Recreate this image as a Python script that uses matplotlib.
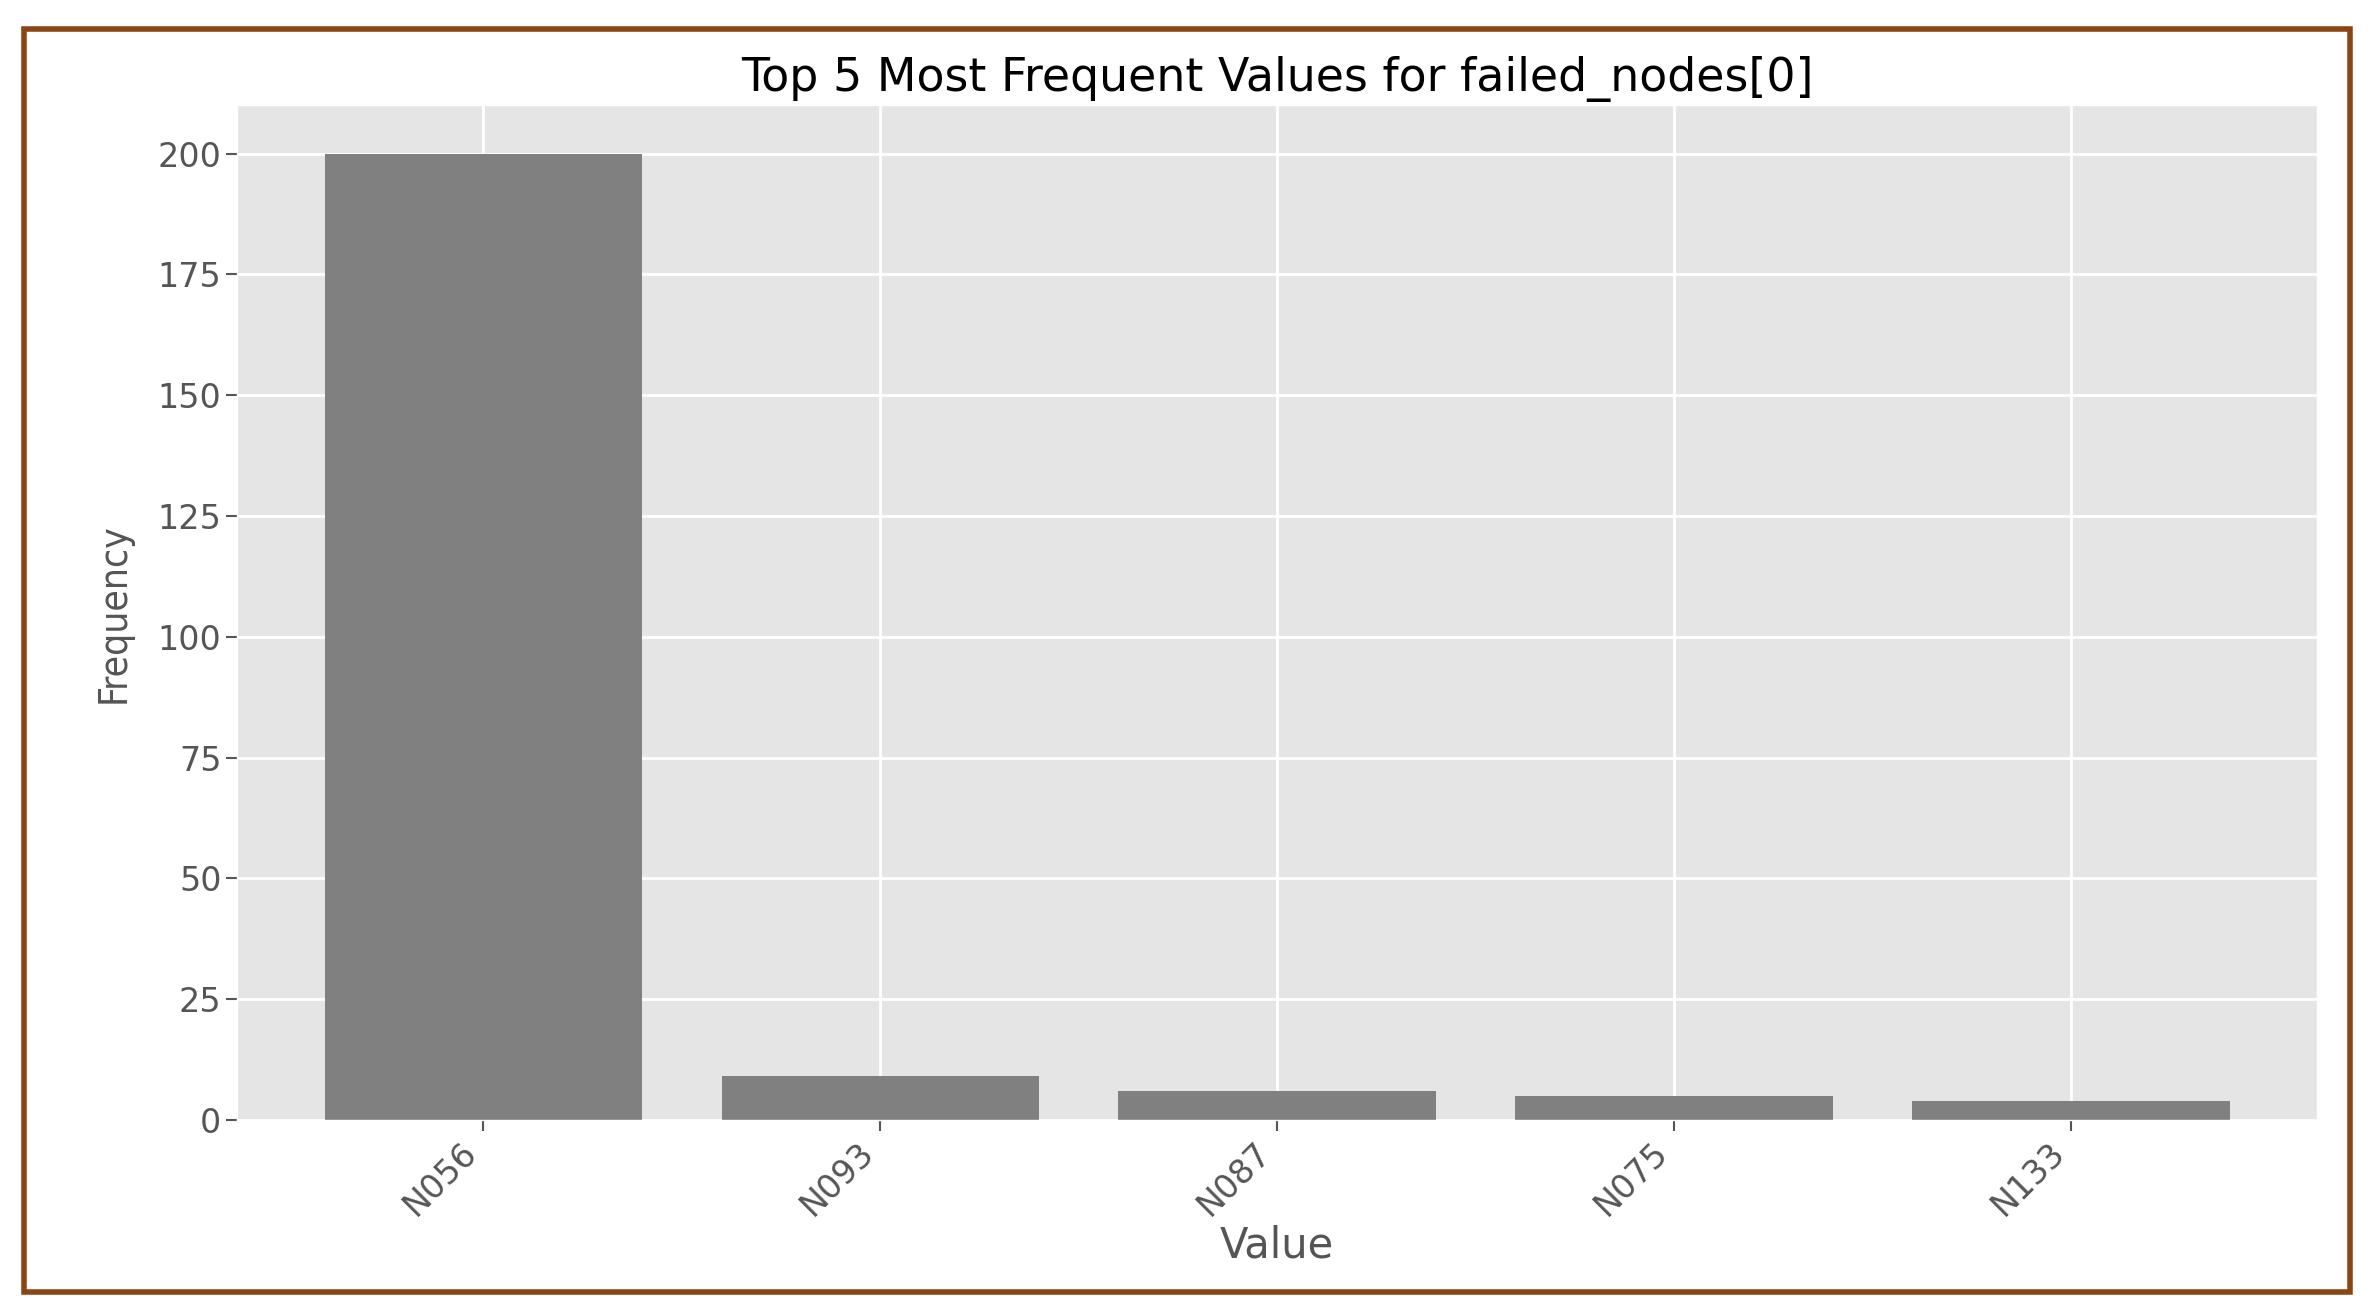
import matplotlib.pyplot as plt
from matplotlib.patches import Rectangle

plt.style.use('ggplot')

values = ['N056', 'N093', 'N087', 'N075', 'N133']
counts = [200, 9, 6, 5, 4]

fig = plt.figure(figsize=(23.74, 13.16), dpi=100)
ax = fig.add_axes([0.100, 0.149, 0.876, 0.771])
ax.bar(values, counts, color='gray', width=0.8)
ax.set_xlim(-0.62, 4.62)
ax.set_ylim(0, 210)
ax.set_yticks(range(0, 201, 25))
ax.grid(color='white', linewidth=2)
ax.tick_params(axis='both', labelsize=24, colors='#555555', length=8, width=1.5)
plt.setp(ax.get_xticklabels(), rotation=45, ha='right')
ax.set_title('Top 5 Most Frequent Values for failed_nodes[0]', fontsize=33, color='black', pad=10)
ax.set_xlabel('Value', fontsize=30, color='#555555', labelpad=2)
ax.set_ylabel('Frequency', fontsize=28, color='#555555', fontstretch='condensed', labelpad=18)

# brown frame around the whole picture
fig.patches.append(Rectangle((0.010, 0.018), 0.980, 0.960, transform=fig.transFigure,
                             fill=False, edgecolor='#8B4513', linewidth=4))

fig.savefig('out.png', dpi=100, facecolor='white')
